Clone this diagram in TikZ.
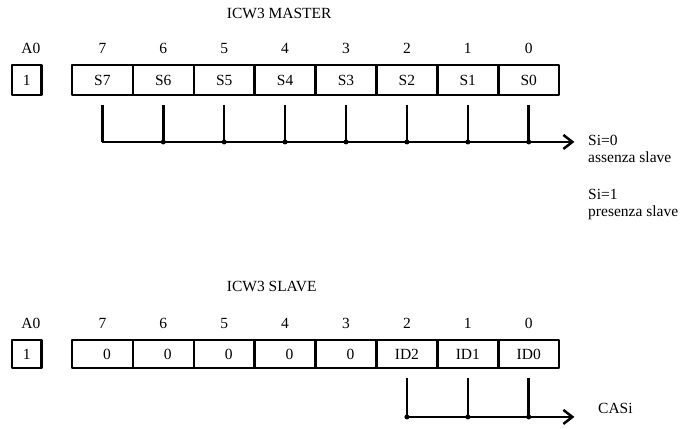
\documentclass[tikz,border=0pt]{standalone}
\usepackage{fontspec}
\setmainfont{Liberation Serif}
\usetikzlibrary{positioning, arrows.meta}

\tikzset{
    cell/.style={draw, line width=2.5pt, line join=round, minimum width=60.9pt, inner sep=0pt},
    bitno/.style={inner sep=0pt},
    title/.style={anchor=west, inner sep=0pt},
    note/.style={anchor=west, align=left, inner sep=0pt},
    wire/.style={line width=2.5pt},
    dot/.style={circle, fill, inner sep=0pt, minimum size=5pt},
    barb/.style={-{Straight Barb[length=9pt,width=14pt]}},
}

\begin{document}
\begin{tikzpicture}[x=1pt,y=1pt,node distance=60.9pt,font=\fontsize{15.5}{17.5}\selectfont]
    \useasboundingbox (0,0) rectangle (690,-428);

    % ICW3 master
    \node[title] (tm) at (226.7,-13) {ICW3 MASTER};
    \node[cell,minimum width=29.7pt,minimum height=30pt] (ma) at (26.8,-80) {1};
    \node[cell,minimum height=30pt] (m7) at (102.4,-80) {S7};
    \foreach \i [evaluate=\i as \j using int(\i+1)] in {6,...,0}
        \node[cell,minimum height=30pt] (m\i) [right of=m\j] {S\i};

    \node[bitno,above=10pt of ma,xshift=4pt] (bma) {A0};
    \foreach \i in {7,...,0}
        \node[bitno,above=10pt of m\i] (bm\i) {\i};

    \foreach \i in {7,...,0} {
        \coordinate[below=8.3pt of m\i] (mu\i);
        \coordinate[below=45.7pt of m\i] (md\i);
        \draw[wire] (mu\i) -- (md\i);
    }
    \coordinate[right=45.7pt of md0] (mtip);
    \draw[wire,barb] (md7) -- (mtip);
    \foreach \i in {6,...,0}
        \node[dot] (mj\i) at (md\i) {};

    \node[note] (si0) at (588,-149) {Si=0\\assenza slave};
    \node[note] (si1) at (588,-204.5) {Si=1\\presenza slave};

    % ICW3 slave
    \node[title] (ts) at (226.7,-286) {ICW3 SLAVE};
    \node[cell,minimum width=29.7pt,minimum height=28pt] (sa) at (26.8,-354.2) {1};
    \node[cell,minimum height=28pt] (s7) at (102.4,-354.2) {\hspace{9pt}0};
    \foreach \i [evaluate=\i as \j using int(\i+1)] in {6,...,3}
        \node[cell,minimum height=28pt] (s\i) [right of=s\j] {\hspace{9pt}0};
    \foreach \i [evaluate=\i as \j using int(\i+1)] in {2,...,0}
        \node[cell,minimum height=28pt] (s\i) [right of=s\j] {ID\i};

    \node[bitno,above=10pt of sa,xshift=4pt] (bsa) {A0};
    \foreach \i in {7,...,0}
        \node[bitno,above=10pt of s\i] (bs\i) {\i};

    \foreach \i in {2,...,0} {
        \coordinate[below=9pt of s\i] (su\i);
        \coordinate[below=47.5pt of s\i] (sd\i);
        \draw[wire] (su\i) -- (sd\i);
        \node[dot] (sj\i) at (sd\i) {};
    }
    \coordinate[right=45.7pt of sd0] (stip);
    \draw[wire,barb] (sd2) -- (stip);

    \node[note] (cas) at (598,-408) {CASi};
\end{tikzpicture}
\end{document}
